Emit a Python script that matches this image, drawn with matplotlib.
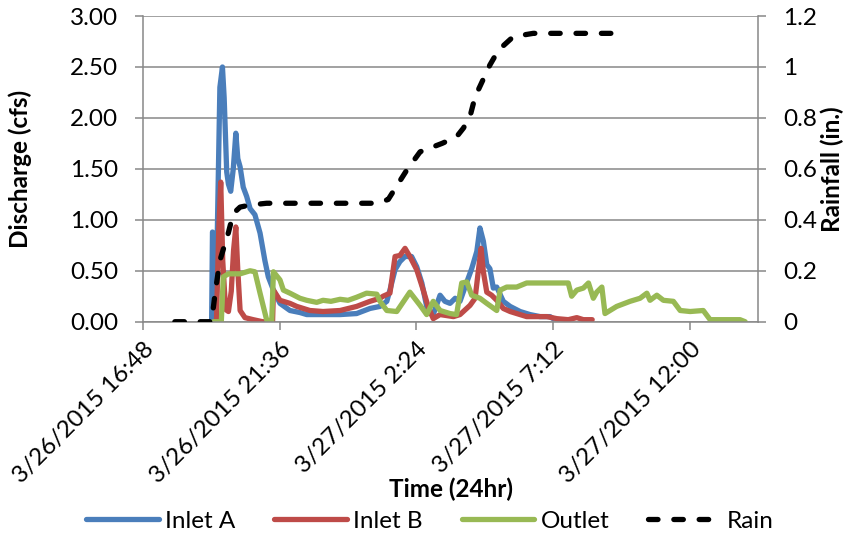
import matplotlib
matplotlib.use("Agg")
import matplotlib.pyplot as plt
import matplotlib.dates as mdates
from matplotlib.ticker import FixedLocator, FuncFormatter
import pandas as pd

plt.rcParams['font.family'] = ['Lato', 'DejaVu Sans']

# storm event 3/26-3/27/2015, times in hours after midnight 3/26
inlet_a_hr = [19.15, 19.21, 19.24, 19.30, 19.36, 19.50, 19.59, 19.65, 19.74, 19.80,
              19.88, 19.97, 20.06, 20.13, 20.21, 20.32, 20.44, 20.56, 20.73, 20.91,
              21.08, 21.20, 21.38, 21.61, 21.96, 22.31, 22.55, 23.12, 23.72, 24.30,
              24.77, 25.12, 25.36, 25.47, 25.65, 25.82, 26.00, 26.23, 26.41, 26.59,
              26.76, 26.88, 26.99, 27.23, 27.40, 27.58, 27.76, 27.93, 28.17, 28.34,
              28.52, 28.63, 28.75, 28.87, 28.98, 29.10, 29.22, 29.45, 29.69, 30.04,
              30.39, 30.74, 31.09, 31.20]
inlet_a_cfs = [0.0, 0.0, 0.88, 0.85, 0.10, 2.30, 2.50, 2.20, 1.47, 1.35,
               1.28, 1.50, 1.85, 1.60, 1.52, 1.32, 1.23, 1.11, 1.05, 0.87,
               0.60, 0.44, 0.31, 0.18, 0.11, 0.09, 0.07, 0.07, 0.07, 0.08,
               0.13, 0.15, 0.20, 0.31, 0.51, 0.59, 0.64, 0.64, 0.54, 0.38,
               0.15, 0.08, 0.07, 0.26, 0.20, 0.18, 0.23, 0.20, 0.39, 0.52,
               0.69, 0.92, 0.79, 0.56, 0.52, 0.33, 0.34, 0.20, 0.15, 0.10,
               0.07, 0.05, 0.05, 0.03]

inlet_b_hr = [19.30, 19.38, 19.46, 19.53, 19.60, 19.70, 19.80, 19.90, 19.98, 20.06,
              20.13, 20.21, 20.38, 20.67, 21.00, 21.35, 21.38, 21.61, 21.96, 22.20,
              22.66, 23.12, 23.72, 24.30, 24.77, 25.12, 25.23, 25.47, 25.65, 25.82,
              26.00, 26.17, 26.41, 26.64, 26.81, 26.99, 27.23, 27.70, 27.93, 28.28,
              28.46, 28.57, 28.67, 28.75, 28.87, 29.04, 29.22, 29.45, 29.69, 29.92,
              30.27, 30.98, 31.33, 31.73, 32.03, 32.26, 32.57]
inlet_b_cfs = [0.0, 0.0, 0.90, 1.37, 0.60, 0.12, 0.10, 0.30, 0.70, 0.93,
               0.50, 0.11, 0.04, 0.02, 0.0, 0.0, 0.31, 0.21, 0.18, 0.15,
               0.11, 0.10, 0.11, 0.15, 0.20, 0.23, 0.25, 0.28, 0.64, 0.65,
               0.72, 0.64, 0.51, 0.31, 0.15, 0.03, 0.07, 0.05, 0.07, 0.16,
               0.23, 0.49, 0.72, 0.49, 0.29, 0.26, 0.21, 0.13, 0.10, 0.08,
               0.05, 0.05, 0.03, 0.02, 0.04, 0.02, 0.02]

outlet_hr = [19.27, 19.55, 19.62, 19.80, 20.21, 20.56, 20.73, 20.91, 21.14, 21.32,
             21.38, 21.61, 21.73, 21.96, 22.31, 22.55, 22.90, 23.12, 23.40, 23.72,
             24.00, 24.30, 24.65, 25.01, 25.12, 25.36, 25.71, 26.17, 26.53, 26.76,
             26.99, 27.23, 27.58, 27.81, 27.99, 28.17, 28.34, 28.63, 28.87, 29.22,
             29.34, 29.57, 29.92, 30.27, 30.39, 31.73, 31.85, 32.03, 32.26, 32.44,
             32.61, 32.73, 32.91, 33.02, 33.43, 33.90, 34.25, 34.49, 34.60, 34.84,
             35.07, 35.42, 35.66, 36.01, 36.47, 36.71, 37.76, 37.94]
outlet_cfs = [0.0, 0.0, 0.44, 0.47, 0.47, 0.50, 0.49, 0.28, 0.02, 0.0,
              0.49, 0.41, 0.31, 0.28, 0.23, 0.21, 0.19, 0.21, 0.20, 0.22,
              0.21, 0.24, 0.28, 0.27, 0.20, 0.11, 0.10, 0.29, 0.16, 0.07,
              0.20, 0.11, 0.08, 0.07, 0.38, 0.39, 0.26, 0.23, 0.18, 0.11,
              0.31, 0.34, 0.34, 0.38, 0.38, 0.38, 0.25, 0.31, 0.33, 0.38,
              0.23, 0.29, 0.34, 0.08, 0.15, 0.20, 0.23, 0.28, 0.21, 0.26,
              0.21, 0.20, 0.11, 0.10, 0.11, 0.02, 0.02, 0.0]

rain_hr = [17.92, 19.21, 19.33, 19.50, 19.80, 19.97, 20.21, 20.56, 21.14, 25.01,
           25.41, 26.06, 26.53, 27.30, 27.81, 28.05, 28.28, 28.46, 28.98, 29.28,
           29.80, 30.50, 33.31]
rain_in = [0.0, 0.0, 0.11, 0.24, 0.35, 0.425, 0.45, 0.458, 0.465, 0.465,
           0.48, 0.595, 0.667, 0.70, 0.726, 0.76, 0.805, 0.883, 1.008, 1.066,
           1.119, 1.132, 1.132]

day0 = pd.Timestamp("2015-03-26")


def to_time(hours):
    return day0 + pd.to_timedelta(hours, unit="h")


grid_col = "#888888"
fig = plt.figure(figsize=(8.49, 5.36), dpi=100)
ax = fig.add_axes([0.1684, 0.3998, 0.7247, 0.5703])
ax2 = ax.twinx()

lw = 3.8
l1, = ax.plot(to_time(inlet_a_hr), inlet_a_cfs, color="#4A7EBB", lw=lw,
              solid_joinstyle="round", solid_capstyle="round", label="Inlet A")
l2, = ax.plot(to_time(inlet_b_hr), inlet_b_cfs, color="#BE4B48", lw=lw,
              solid_joinstyle="round", solid_capstyle="round", label="Inlet B")
l3, = ax.plot(to_time(outlet_hr), outlet_cfs, color="#98B954", lw=lw,
              solid_joinstyle="round", solid_capstyle="round", label="Outlet")
l4, = ax2.plot(to_time(rain_hr), rain_in, color="black", lw=lw,
               dashes=(1.8, 3.0), dash_capstyle="round", label="Rain")

# x axis: ticks every 4.8 h from 16:48
ticks = pd.date_range("2015-03-26 16:48", periods=5, freq="288min")
ax.set_xlim(mdates.date2num(ticks[0]),
            mdates.date2num(ticks[0] + pd.Timedelta(minutes=1296)))
ax.xaxis.set_major_locator(FixedLocator(mdates.date2num(ticks)))


def fmt_time(v, pos):
    t = mdates.num2date(v)
    return f"{t.month}/{t.day}/{t.year} {t.hour}:{t.minute:02d}"


ax.xaxis.set_major_formatter(FuncFormatter(fmt_time))
for lab in ax.get_xticklabels():
    lab.set_rotation(45)
    lab.set_ha("right")
    lab.set_va("top")
    lab.set_rotation_mode("anchor")

ax.set_ylim(0, 3.0)
ax.set_yticks([0, 0.5, 1.0, 1.5, 2.0, 2.5, 3.0])
ax.yaxis.set_major_formatter(FuncFormatter(lambda v, p: f"{v:.2f}"))
ax2.set_ylim(0, 1.2)
ax2.set_yticks([0, 0.2, 0.4, 0.6, 0.8, 1.0, 1.2])
ax2.yaxis.set_major_formatter(FuncFormatter(lambda v, p: f"{v:g}"))

ax.grid(axis="y", color=grid_col, lw=1.1)
ax.set_axisbelow(True)
for a in (ax, ax2):
    for s in a.spines.values():
        s.set_color(grid_col)
        s.set_linewidth(1.1)
    a.spines["top"].set_visible(False)
ax.spines["right"].set_visible(False)
ax2.spines["left"].set_visible(False)
ax2.spines["bottom"].set_visible(False)

fs = 17.5
ax.tick_params(axis="y", length=6, width=1.1, color=grid_col, pad=12, labelsize=fs)
ax.tick_params(axis="x", length=6, width=1.1, color=grid_col, pad=6, labelsize=fs)
ax2.tick_params(axis="y", length=6, width=1.1, color=grid_col, pad=12, labelsize=fs)

ax.set_xlabel("Time (24hr)", fontsize=fs, fontweight="bold", va="center")
ax.xaxis.set_label_coords(0.5, -0.549)
ax.set_ylabel("Discharge (cfs)", fontsize=fs, fontweight="bold", va="center")
ax.yaxis.set_label_coords(-0.200, 0.5)
ax2.set_ylabel("Rainfall (in.)", fontsize=fs, fontweight="bold", va="center",
               rotation=90)
ax2.yaxis.set_label_coords(1.121, 0.5)

fig.legend(handles=[l1, l2, l3, l4], ncol=4, frameon=False, fontsize=fs,
           loc="center", bbox_to_anchor=(430 / 849, 1 - 521 / 536),
           handlelength=3.0, handletextpad=0.25, columnspacing=1.6)

fig.savefig("out.png", dpi=100)
